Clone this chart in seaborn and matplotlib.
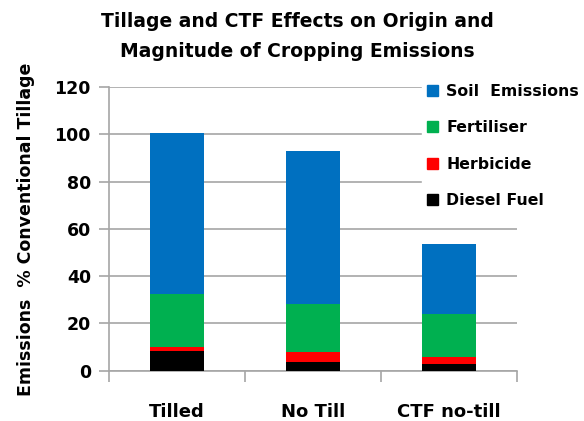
import numpy as np
import pandas as pd
import seaborn as sns
import matplotlib.pyplot as plt
from matplotlib.patches import Patch

# values (% of conventional tillage)
systems = ['Tilled', 'No Till', 'CTF no-till']
diesel = [8.2, 3.5, 2.7]
herbicide = [1.8, 4.4, 2.9]
fertiliser = [22.5, 20.2, 18.4]
soil = [68.0, 64.8, 29.6]

sns.set_style('white')
plt.rcParams['font.family'] = ['DejaVu Sans']
plt.rcParams['text.color'] = 'black'
plt.rcParams['axes.labelcolor'] = 'black'

df = pd.DataFrame({'System': systems, 'Diesel': diesel, 'Herbicide': herbicide,
                   'Fertiliser': fertiliser, 'Soil': soil})
df['c_diesel'] = df['Diesel']
df['c_herb'] = df['c_diesel'] + df['Herbicide']
df['c_fert'] = df['c_herb'] + df['Fertiliser']
df['c_soil'] = df['c_fert'] + df['Soil']

fig = plt.figure(figsize=(5.84, 4.21), dpi=100)
ax = fig.add_axes([0.1866, 0.1195, 0.6986, 0.6739])

layers = [('c_soil', '#0070C0'), ('c_fert', '#00B050'),
          ('c_herb', '#FF0000'), ('c_diesel', '#000000')]
for col, color in layers:
    sns.barplot(x='System', y=col, data=df, color=color, width=0.4,
                saturation=1, linewidth=0, ax=ax, zorder=3)

ax.set_ylim(0, 120)
ax.set_xlim(-0.5, 2.5)
ax.set_yticks(np.arange(0, 121, 20))
ax.grid(axis='y', color='#A6A6A6', linewidth=1.2, zorder=0)
ax.set_xlabel('')
ax.set_ylabel('Emissions  % Conventional Tillage', fontsize=12.5,
              fontweight='bold', labelpad=14)
for s in ['top', 'right']:
    ax.spines[s].set_visible(False)
for s in ['left', 'bottom']:
    ax.spines[s].set_color('#A6A6A6')
    ax.spines[s].set_linewidth(1.2)

# category boundaries as tick marks, names in between
ax.set_xticks([-0.5, 0.5, 1.5, 2.5])
ax.set_xticklabels([])
ax.set_xticks([0, 1, 2], minor=True)
ax.set_xticklabels(systems, minor=True, fontsize=13, fontweight='bold')
ax.tick_params(axis='x', which='major', length=8, width=1.2, color='#A6A6A6', direction='out', bottom=True)
ax.tick_params(axis='x', which='minor', length=0, pad=23, labelcolor='black')
ax.tick_params(axis='y', length=7, width=1.2, color='#A6A6A6', direction='out', left=True, pad=6,
               labelcolor='black')
for lbl in ax.get_yticklabels():
    lbl.set_fontsize(12.5)
    lbl.set_fontweight('bold')

handles = [Patch(color='#0070C0', label='Soil  Emissions'),
           Patch(color='#00B050', label='Fertiliser'),
           Patch(color='#FF0000', label='Herbicide'),
           Patch(color='#000000', label='Diesel Fuel')]
leg = fig.legend(handles=handles, loc='upper left', bbox_to_anchor=(0.71, 0.83),
                 frameon=True, fancybox=False, edgecolor='white', facecolor='white',
                 framealpha=1, handlelength=0.7, handleheight=0.7, handletextpad=0.5,
                 labelspacing=1.35, borderpad=0.3,
                 prop={'weight': 'bold', 'size': 11.3})

fig.text(0.509, 0.95, 'Tillage and CTF Effects on Origin and', ha='center', va='center',
         fontsize=13.5, fontweight='bold')
fig.text(0.509, 0.878, 'Magnitude of Cropping Emissions', ha='center', va='center',
         fontsize=13.5, fontweight='bold')

fig.savefig('out.png', dpi=100)
